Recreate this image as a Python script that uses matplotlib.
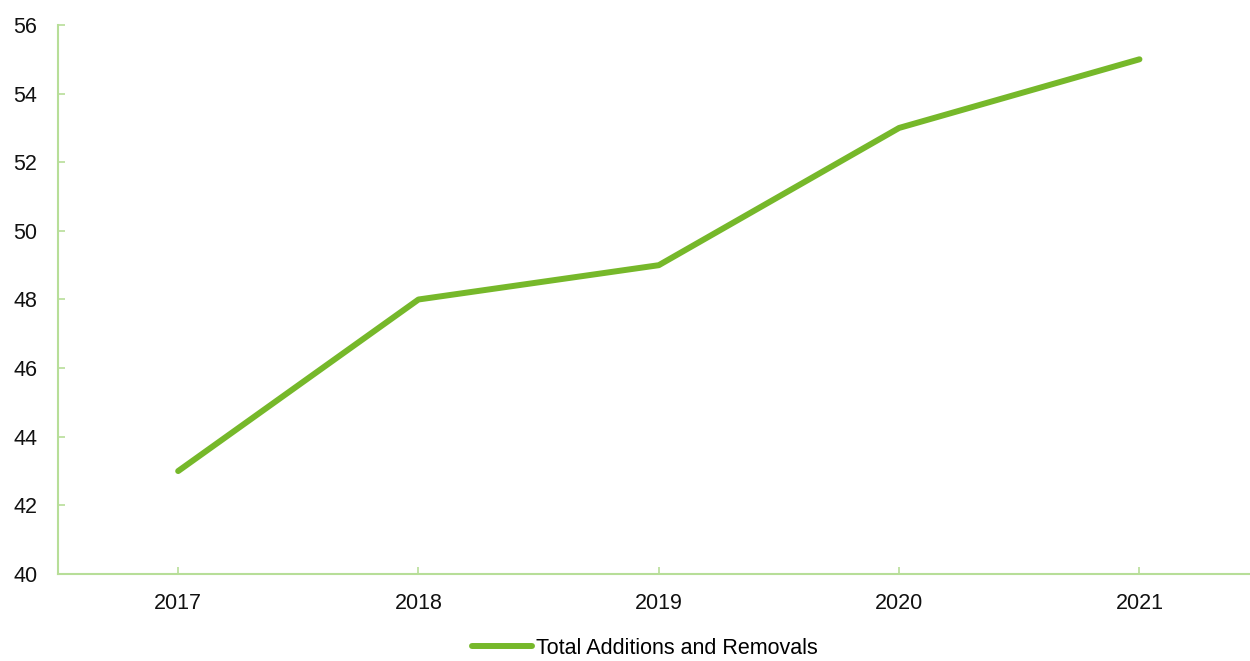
import matplotlib.pyplot as plt

years = ['2017', '2018', '2019', '2020', '2021']
totals = [43, 48, 49, 53, 55]
y_ticks = [40, 42, 44, 46, 48, 50, 52, 54, 56]

line_color = '#76B82A'
axis_color = '#B7DE98'

plt.rcParams['font.family'] = ['Liberation Sans', 'DejaVu Sans']

fig = plt.figure(figsize=(12.5, 6.61), dpi=100)
ax = fig.add_axes([0.0464, 0.1316, 0.9536, 0.8306])

x = list(range(len(years)))
ax.plot(x, totals, color=line_color, linewidth=4.3, solid_capstyle='round',
        label='Total Additions and Removals')

ax.set_xlim(-0.5, 4.46)
ax.set_ylim(40, 56)
ax.set_xticks(x)
ax.set_xticklabels(years)
ax.set_yticks(y_ticks)

for side in ['top', 'right']:
    ax.spines[side].set_visible(False)
for side in ['left', 'bottom']:
    ax.spines[side].set_color(axis_color)
    ax.spines[side].set_linewidth(1.5)

ax.tick_params(axis='both', direction='in', length=5, width=1.2, color=axis_color,
               labelsize=15.5, labelcolor='#111111')
ax.tick_params(axis='x', pad=14)
ax.tick_params(axis='y', pad=15)

# legend sits just under the axis labels, centred on the plot
leg = fig.legend(loc='lower center', bbox_to_anchor=(0.516, 0.003), frameon=False,
                 fontsize=15.5, handlelength=2.8, handletextpad=0.2,
                 borderpad=0.0, borderaxespad=0.0)

fig.savefig('out.png', dpi=100)
